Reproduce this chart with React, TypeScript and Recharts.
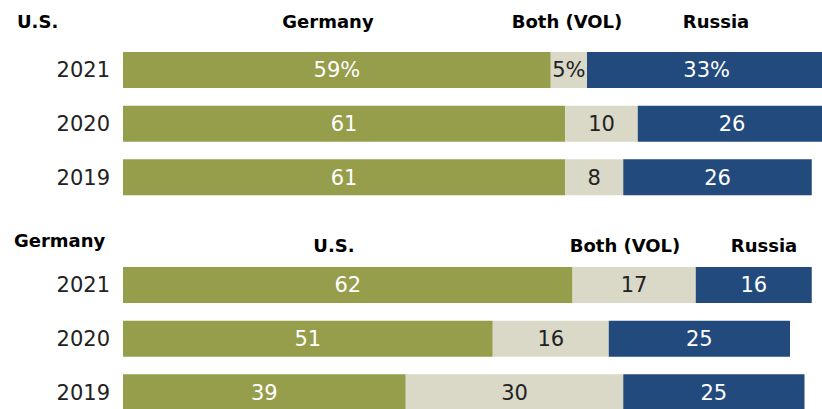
import { BarChart, Bar, XAxis, YAxis, LabelList } from 'recharts'

// ─── data ─────────────────────────────────────────────────────────────

const years = ['2021', '2020', '2019']

// panel 1: U.S. respondents — most important partner
const usGermany = [59, 61, 61]
const usBoth    = [5, 10, 8]
const usRussia  = [33, 26, 26]
const usHeaders = ['Germany', 'Both (VOL)', 'Russia']

// panel 2: German respondents
const deUS     = [62, 51, 39]
const deBoth   = [17, 16, 30]
const deRussia = [16, 25, 25]
const deHeaders = ['U.S.', 'Both (VOL)', 'Russia']

const GREEN = '#969d4b'
const BEIGE = '#dad8c7'
const BLUE  = '#224a7d'

const NUM_FONT = '"DejaVu Sans", "Noto Sans", sans-serif'
const HEAD_FONT = '"DejaVu Sans", "Noto Sans", sans-serif'

function rows(a: number[], b: number[], c: number[], pctFirst: boolean) {
  return years.map((year, i) => {
    const sfx = pctFirst && i === 0 ? '%' : ''
    return {
      year,
      a: a[i], b: b[i], c: c[i],
      aLabel: `${a[i]}${sfx}`,
      bLabel: `${b[i]}${sfx}`,
      cLabel: `${c[i]}${sfx}`,
    }
  })
}

// ─── panel ────────────────────────────────────────────────────────────

function Panel({ data, top }: { data: ReturnType<typeof rows>; top: number }) {
  const lbl = { fontSize: 21, fontFamily: NUM_FONT }
  return (
    <div style={{ position: 'absolute', left: 0, top }}>
      <BarChart
        width={848}
        height={161}
        data={data}
        layout="vertical"
        margin={{ top: 0, right: 0, bottom: 0, left: 0 }}
      >
        <XAxis type="number" domain={[0, 100]} hide />
        <YAxis
          type="category"
          dataKey="year"
          width={123}
          axisLine={false}
          tickLine={false}
          tickSize={0}
          tickMargin={13}
          tick={{ fontSize: 21, fontFamily: NUM_FONT, fill: '#222' }}
        />
        <Bar dataKey="a" stackId="s" fill={GREEN} barSize={36} isAnimationActive={false}>
          <LabelList dataKey="aLabel" position="center" fill="#fff" {...lbl} />
        </Bar>
        <Bar dataKey="b" stackId="s" fill={BEIGE} barSize={36} isAnimationActive={false}>
          <LabelList dataKey="bLabel" position="center" fill="#222" {...lbl} />
        </Bar>
        <Bar dataKey="c" stackId="s" fill={BLUE} barSize={36} isAnimationActive={false}>
          <LabelList dataKey="cLabel" position="center" fill="#fff" {...lbl} />
        </Bar>
      </BarChart>
    </div>
  )
}

function Head({ text, x, top, align = 'center' }: { text: string; x: number; top: number; align?: 'center' | 'left' }) {
  return (
    <div
      style={{
        position: 'absolute',
        top,
        left: align === 'center' ? x - 100 : x,
        width: align === 'center' ? 200 : undefined,
        textAlign: align,
        fontFamily: HEAD_FONT,
        fontWeight: 700,
        fontSize: 18,
        lineHeight: '18px',
        color: '#000',
        whiteSpace: 'nowrap',
      }}
    >
      {text}
    </div>
  )
}

export default function App() {
  const top = rows(usGermany, usBoth, usRussia, true)
  const bottom = rows(deUS, deBoth, deRussia, false)
  return (
    <div
      style={{
        position: 'fixed', left: 0, top: 0, width: 822, height: 409,
        overflow: 'hidden', background: '#fff',
      }}
    >
      <Head text="U.S." x={17} top={13} align="left" />
      <Head text={usHeaders[0]} x={328} top={13} />
      <Head text={usHeaders[1]} x={567} top={13} />
      <Head text={usHeaders[2]} x={716} top={13} />
      <Panel data={top} top={43} />

      <Head text="Germany" x={14} top={232} align="left" />
      <Head text={deHeaders[0]} x={334} top={237} />
      <Head text={deHeaders[1]} x={625} top={237} />
      <Head text={deHeaders[2]} x={764} top={237} />
      <Panel data={bottom} top={258} />
    </div>
  )
}
